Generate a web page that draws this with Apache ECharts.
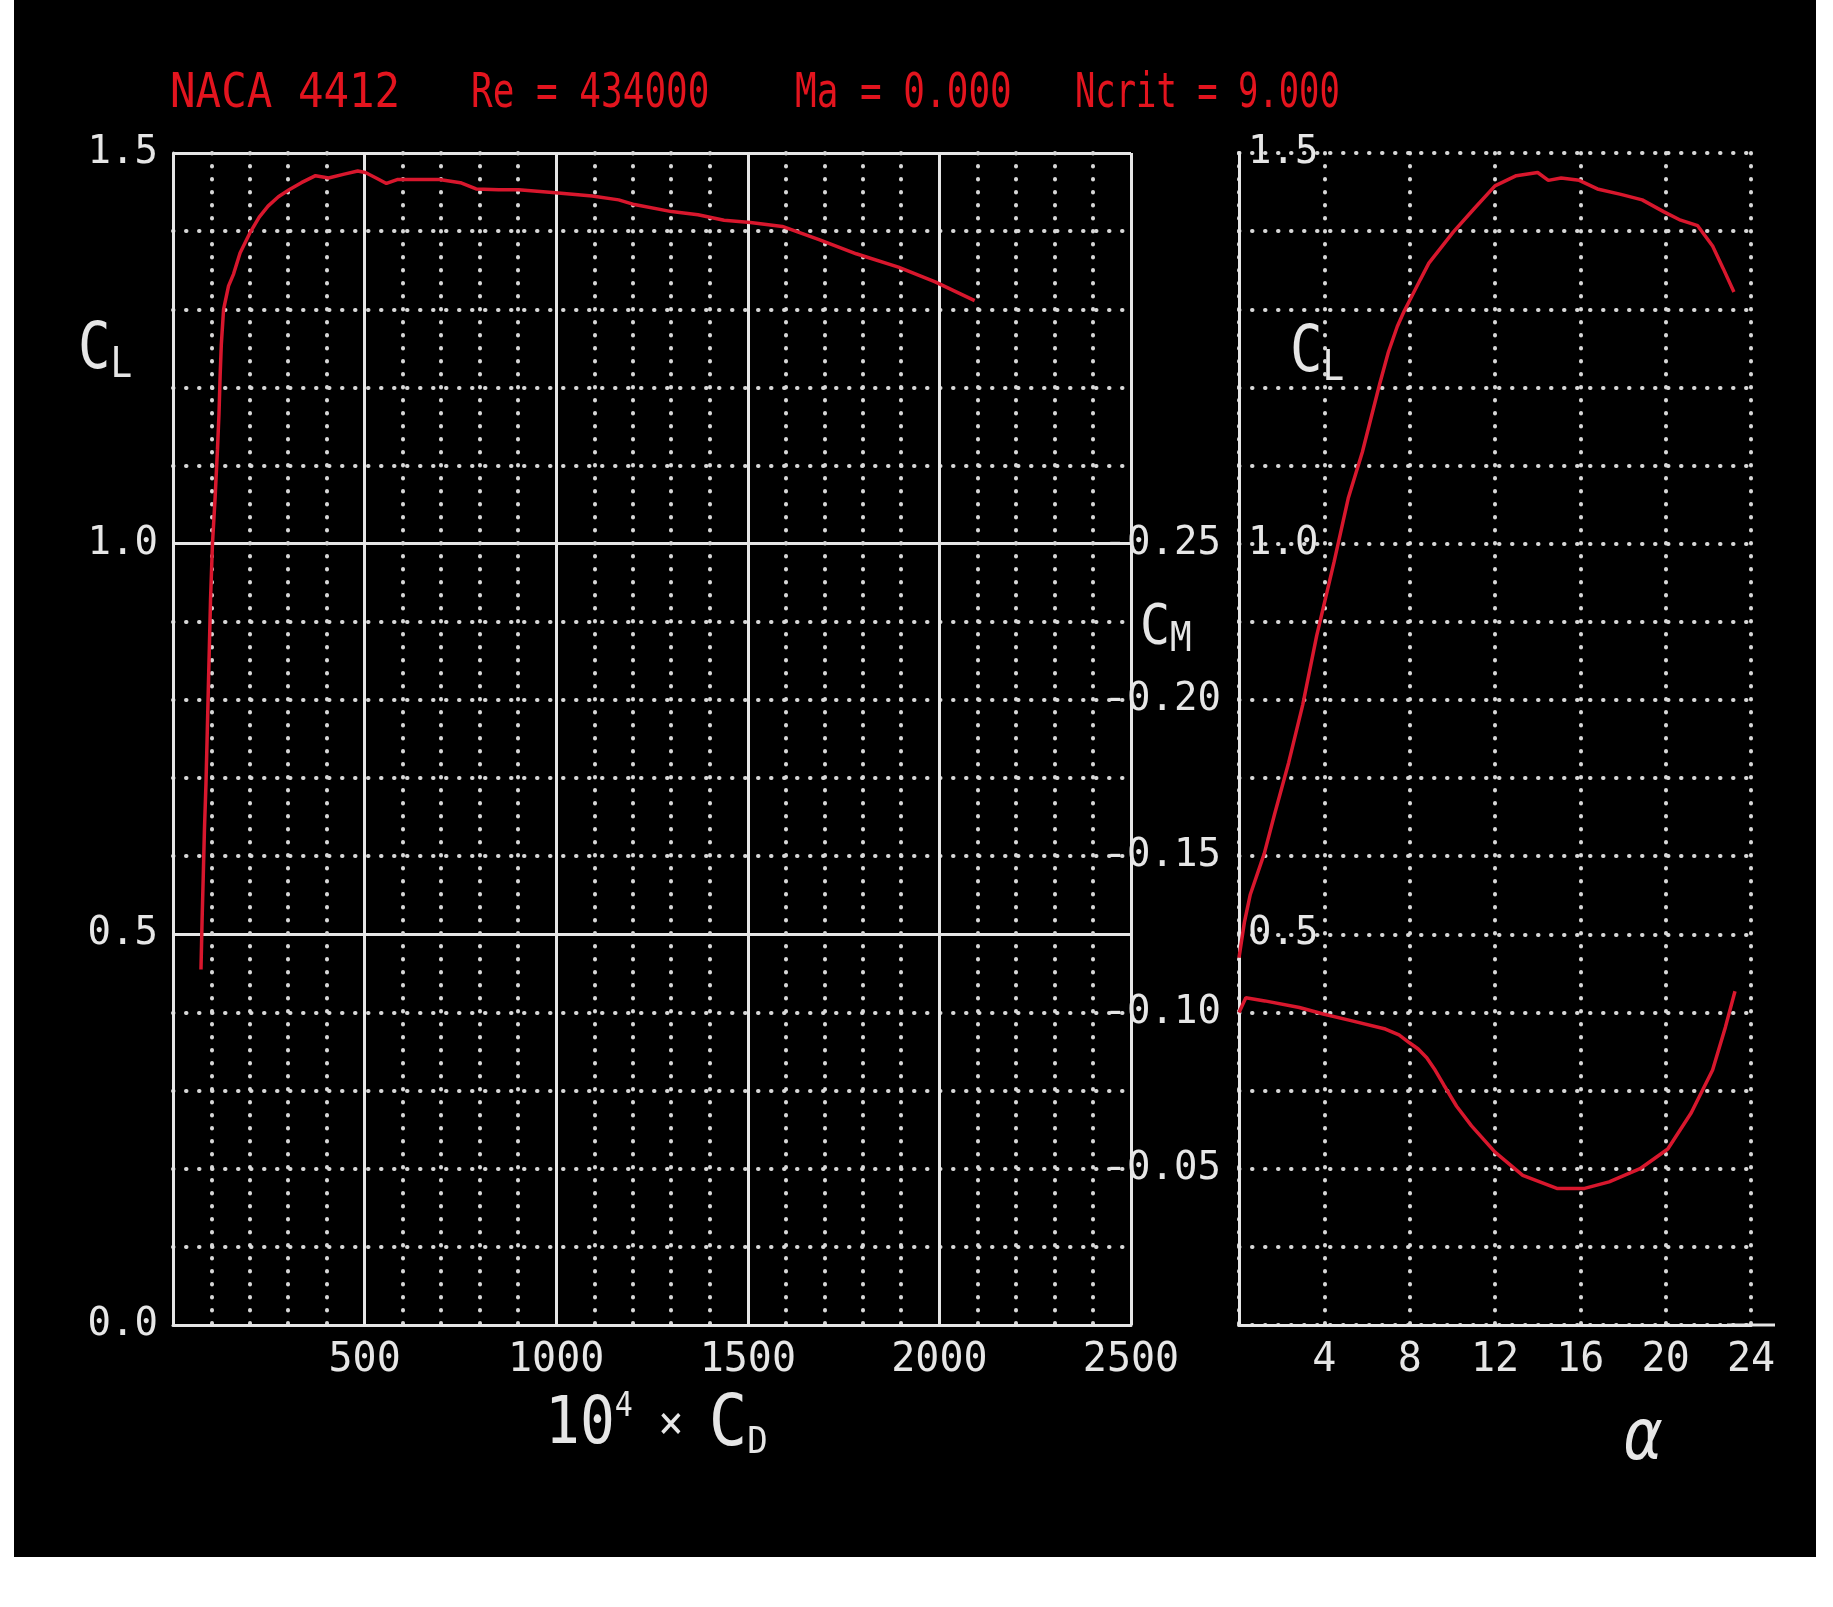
<!DOCTYPE html>
<html>
<head>
<meta charset="utf-8">
<script src="https://cdn.jsdelivr.net/npm/echarts@6/dist/echarts.min.js"></script>
<style>
html,body{margin:0;padding:0;background:#ffffff;width:1833px;height:1607px;overflow:hidden}
#chart{position:absolute;left:14px;top:0;width:1802px;height:1557px;background:#000}
</style>
</head>
<body>
<div id="chart"></div>
<script>
// ---- Drag polar: 10^4 x CD vs CL ----
const polarCD = [73,76,79,82,86,89,92,95,98,103,110,116,120,123,126,132,145,158,175,200,225,248,275,303,335,372,406,447,482,502,530,557,585,640,695,750,791,850,902,998,1094,1163,1204,1301,1370,1438,1507,1590,1686,1783,1893,1989,2092];
const polarCL = [0.455,0.52,0.575,0.633,0.692,0.75,0.811,0.87,0.929,1.0,1.06,1.12,1.166,1.215,1.254,1.30,1.33,1.345,1.372,1.397,1.418,1.432,1.444,1.453,1.462,1.471,1.468,1.473,1.477,1.475,1.468,1.461,1.466,1.466,1.466,1.462,1.454,1.453,1.453,1.449,1.445,1.440,1.434,1.425,1.421,1.414,1.411,1.406,1.389,1.371,1.354,1.335,1.311];

// ---- Lift curve: alpha vs CL ----
const alphaCL = [0,0.25,0.53,1.18,1.67,2.33,2.99,3.64,4.46,5.12,5.78,6.6,7.0,7.42,7.75,8.07,8.5,8.9,10.05,11.03,12.0,13.0,14.0,14.5,15.1,15.95,16.8,17.9,18.9,19.9,20.7,21.5,22.2,22.7,23.2];
const clAlpha = [0.47,0.515,0.551,0.603,0.654,0.72,0.794,0.882,0.977,1.058,1.117,1.205,1.245,1.278,1.298,1.315,1.338,1.359,1.399,1.429,1.458,1.471,1.475,1.465,1.468,1.465,1.454,1.447,1.44,1.425,1.414,1.407,1.381,1.352,1.322];

// ---- Moment curve: alpha vs CM ----
const alphaCm = [0,0.32,1.21,2.83,3.95,5.25,6.86,7.5,7.99,8.4,8.8,9.2,9.6,10.2,10.9,12.0,13.3,14.9,16.2,17.35,18.8,20.1,21.2,22.2,22.8,23.25];
const cmAlpha = [-0.100,-0.1047,-0.1037,-0.1016,-0.0995,-0.0974,-0.0947,-0.0928,-0.0903,-0.0883,-0.0855,-0.0815,-0.0768,-0.0700,-0.0637,-0.0553,-0.0479,-0.0437,-0.0437,-0.0458,-0.050,-0.0563,-0.0679,-0.0816,-0.0953,-0.1068];

// ---- Tick labels and texts ----
const cdTicks = [500,1000,1500,2000,2500];
const clTicksLeft = [0,0.5,1.0,1.5];
const clTicksRight = [0.5,1.0,1.5];
const alphaTicks = [4,8,12,16,20,24];
const cmTicks = [-0.25,-0.20,-0.15,-0.10,-0.05];
const titleParts = ['NACA 4412','Re = 434000','Ma = 0.000','Ncrit = 9.000'];

const MONO = "'DejaVu Sans Mono','Liberation Mono',monospace";
const WHITE = '#e6e6e6';
const RED = '#d8172d';
const TITLE_RED = '#e3141e';
const dotted = {color:'#d8d8d8', width:4, type:[0.5,12.5], cap:'round'};
const solid = {color:WHITE, width:3, type:'solid'};
const lab = {color:WHITE, fontFamily:MONO, fontSize:39};

const chart = echarts.init(document.getElementById('chart'));

const titleX = [156,457,781,1061];
const titleScaleX = [1.18,1,1,0.94];
const graphics = titleParts.map((t,i)=>({
  type:'text', x:titleX[i], y:94, scaleY:1.35, scaleX:titleScaleX[i],
  style:{text:t, fill:TITLE_RED, fontFamily:MONO, fontSize:36, align:'left', verticalAlign:'middle'}
}));

function subText(x,y,main,sub,size,subSize,scaleY){
  return {type:'text', x:x, y:y, scaleY:scaleY,
    style:{text:'{m|'+main+'}{s|'+sub+'}', align:'left', verticalAlign:'middle', fill:WHITE,
      rich:{m:{fontFamily:MONO,fontSize:size,fill:WHITE,lineHeight:size+8,verticalAlign:'middle'},
            s:{fontFamily:MONO,fontSize:subSize,fill:WHITE,lineHeight:Math.round(subSize*0.7),verticalAlign:'bottom'}}}};
}
graphics.push(subText(64,351,'C','L',54,36,1.18));
graphics.push(subText(1276,354,'C','L',54,36,1.18));
graphics.push(subText(1126,628,'C','M',50,36,1.12));
graphics.push({type:'text', x:531, y:1426, scaleY:1.12,
  style:{text:'{m|10}{p|4}{x| × }{c|C}{s|D}', align:'left', verticalAlign:'middle', fill:WHITE,
    rich:{m:{fontFamily:MONO,fontSize:58,fill:WHITE,lineHeight:64,verticalAlign:'middle'},
          p:{fontFamily:MONO,fontSize:30,fill:WHITE,lineHeight:24,verticalAlign:'top'},
          x:{fontFamily:MONO,fontSize:42,fill:WHITE,lineHeight:44,verticalAlign:'middle'},
          c:{fontFamily:MONO,fontSize:64,fill:WHITE,lineHeight:64,verticalAlign:'middle'},
          s:{fontFamily:MONO,fontSize:34,fill:WHITE,lineHeight:26,verticalAlign:'bottom'}}}});
graphics.push({type:'text', x:1629, y:1440, scaleY:1.2,
  style:{text:'α', fill:WHITE, fontFamily:"'DejaVu Sans',sans-serif", fontStyle:'italic', fontSize:60, align:'center', verticalAlign:'middle'}});

const option = {
  backgroundColor:'#000',
  animation:false,
  grid:[
    {left:159, top:153, width:958, height:1172},
    {left:1225, top:153, width:512, height:1172}
  ],
  xAxis:[
    {gridIndex:0, type:'value', min:0, max:2500, interval:500,
     axisLine:{show:true, onZero:false, lineStyle:solid}, axisTick:{show:false},
     axisLabel:Object.assign({}, lab, {fontSize:40, margin:16, customValues:cdTicks, formatter:v=>String(v)}),
     splitLine:{show:true, lineStyle:solid},
     minorTick:{show:false, splitNumber:5},
     minorSplitLine:{show:true, lineStyle:dotted}},
    {gridIndex:1, type:'value', min:0, max:24, interval:4,
     axisLine:{show:true, onZero:false, lineStyle:solid, symbol:['none','rect'], symbolSize:[3,48]},
     axisTick:{show:false},
     axisLabel:Object.assign({}, lab, {fontSize:40, margin:16, customValues:alphaTicks, formatter:v=>String(v)}),
     splitLine:{show:true, lineStyle:dotted}}
  ],
  yAxis:[
    {gridIndex:0, type:'value', min:0, max:1.5, interval:0.5,
     axisLine:{show:true, onZero:false, lineStyle:solid}, axisTick:{show:false},
     axisLabel:Object.assign({}, lab, {margin:15, customValues:clTicksLeft, formatter:v=>v.toFixed(1)}),
     splitLine:{show:true, lineStyle:solid},
     minorTick:{show:false, splitNumber:5},
     minorSplitLine:{show:true, lineStyle:dotted}},
    {gridIndex:1, type:'value', min:0, max:1.5, interval:0.5, position:'left',
     axisLine:{show:true, onZero:false, lineStyle:solid}, axisTick:{show:false},
     axisLabel:Object.assign({}, lab, {inside:true, margin:9, customValues:clTicksRight, formatter:v=>v.toFixed(1)}),
     splitLine:{show:true, lineStyle:dotted},
     minorTick:{show:false, splitNumber:5},
     minorSplitLine:{show:true, lineStyle:dotted}},
    {gridIndex:1, type:'value', min:-0.375, max:0, inverse:true, position:'left', offset:0,
     axisLine:{show:false}, axisTick:{show:false}, splitLine:{show:false},
     axisLabel:Object.assign({}, lab, {margin:18, customValues:cmTicks, formatter:v=>v.toFixed(2)})}
  ],
  series:[
    {type:'line', name:'CL vs CD', xAxisIndex:0, yAxisIndex:0, showSymbol:false, smooth:false, z:5,
     lineStyle:{color:RED, width:3.5}, itemStyle:{color:RED},
     data:polarCD.map((d,i)=>[d, polarCL[i]])},
    {type:'line', name:'CL vs alpha', xAxisIndex:1, yAxisIndex:1, showSymbol:false, smooth:false, z:5,
     lineStyle:{color:RED, width:3.5}, itemStyle:{color:RED},
     data:alphaCL.map((a,i)=>[a, clAlpha[i]])},
    {type:'line', name:'CM vs alpha', xAxisIndex:1, yAxisIndex:2, showSymbol:false, smooth:false, z:5,
     lineStyle:{color:RED, width:3.5}, itemStyle:{color:RED},
     data:alphaCm.map((a,i)=>[a, cmAlpha[i]])}
  ],
  graphic:graphics
};
chart.setOption(option);
</script>
</body>
</html>
